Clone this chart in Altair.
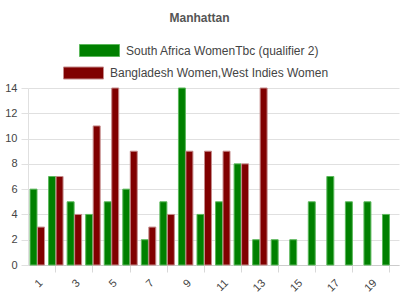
import altair as alt
import pandas as pd

overs = list(range(1, 21))
sa_runs = [6, 7, 5, 4, 5, 6, 2, 5, 14, 4, 5, 8, 2, 2, 2, 5, 7, 5, 5, 4]
bd_runs = [3, 7, 4, 11, 14, 9, 3, 4, 9, 9, 9, 8, 14]
series = ["South Africa WomenTbc (qualifier 2)", "Bangladesh Women,West Indies Women"]
colors = ["#008000", "#800000"]
strokes = ["#5cb85c", "#c48a8a"]
y_ticks = [0, 2, 4, 6, 8, 10, 12, 14]

rows = []
for o, v in zip(overs, sa_runs):
    rows.append({"over": o, "runs": v, "team": series[0]})
for o, v in zip(overs, bd_runs):
    rows.append({"over": o, "runs": v, "team": series[1]})
df = pd.DataFrame(rows)

FONT = "Liberation Sans"

x_enc = alt.X(
    "over:O",
    title=None,
    scale=alt.Scale(domain=overs, paddingInner=0.22, paddingOuter=0.11),
    axis=alt.Axis(
        labelAngle=-45,
        labelAlign="right",
        labelBaseline="middle",
        labelPadding=9,
        labelOffset=4,
        labelExpr="datum.value % 2 == 1 ? datum.label : ''",
        tickOpacity={"condition": {"test": "datum.value % 2 == 0", "value": 1}, "value": 0},
        tickSize=7,
        tickColor="#d8d8d8",
        domainColor="#cccccc",
        labelColor="#444444",
        labelFontSize=11,
        labelFont=FONT,
        grid=False,
    ),
)
y_enc = alt.Y(
    "runs:Q",
    title=None,
    scale=alt.Scale(domain=[0, 14], nice=False),
    axis=alt.Axis(
        values=y_ticks,
        tickSize=7,
        tickColor="#e0e0e0",
        gridColor="#e0e0e0",
        domainColor="#e0e0e0",
        labelColor="#444444",
        labelFontSize=11,
        labelFont=FONT,
        labelPadding=4,
    ),
)
xoff = alt.XOffset("team:N", scale=alt.Scale(domain=series, paddingInner=0.07), sort=series)


def layer(i, lx):
    return (
        alt.Chart(df)
        .transform_filter(alt.datum.team == series[i])
        .mark_bar(strokeWidth=1)
        .encode(
            x=x_enc,
            y=y_enc,
            xOffset=xoff,
            color=alt.Color(
                "team:N",
                scale=alt.Scale(domain=[series[i]], range=[colors[i]]),
                legend=alt.Legend(
                    title=None,
                    orient="none",
                    legendX=lx,
                    legendY=-58 + i * 22.5,
                    symbolType="M-1,-0.3H1V0.3H-1Z",
                    symbolSize=1600,
                    symbolStrokeColor=strokes[i],
                    symbolStrokeWidth=1,
                    labelFont=FONT,
                    labelFontSize=12,
                    labelColor="#444444",
                    labelOffset=6,
                    labelLimit=400,
                ),
            ),
            stroke=alt.value(strokes[i]),
        )
    )


chart = (
    alt.layer(layer(0, 51), layer(1, 35))
    .resolve_scale(color="independent")
    .properties(
        width=371,
        height=177,
        autosize=alt.AutoSizeParams(type="none"),
        padding={"left": 28, "top": 88, "right": 1, "bottom": 35},
        title=alt.TitleParams(
            "Manhattan",
            font=FONT,
            fontSize=12,
            fontWeight="bold",
            color="#555555",
            anchor="middle",
            frame="group",
            offset=5,
            dx=-14,
        ),
    )
    .configure_view(stroke=None)
)

chart.save("out.html", embed_options={"renderer": "svg", "actions": False})
